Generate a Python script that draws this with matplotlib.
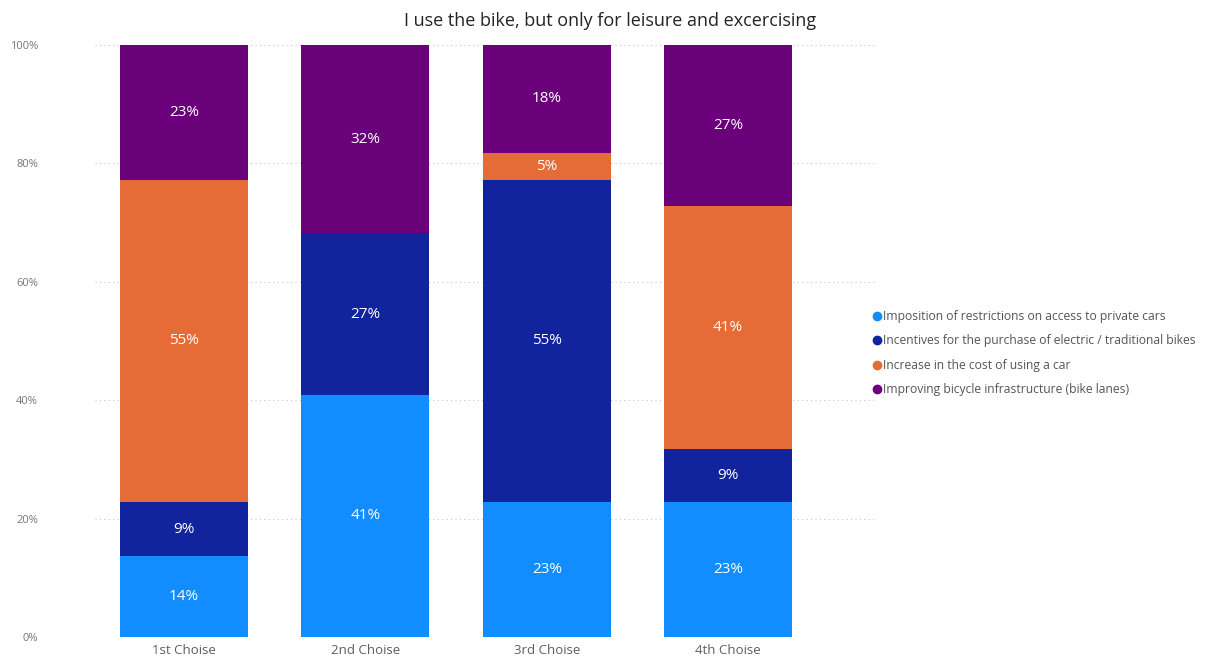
import numpy as np
import matplotlib
matplotlib.use("Agg")
import matplotlib.pyplot as plt
from matplotlib.lines import Line2D
from matplotlib.ticker import PercentFormatter

plt.rcParams["font.family"] = ["Open Sans", "DejaVu Sans"]

# answers per choice rank, 22 respondents each
choices = ["1st Choise", "2nd Choise", "3rd Choise", "4th Choise"]
measures = [
    "Imposition of restrictions on access to private cars",
    "Incentives for the purchase of electric / traditional bikes",
    "Increase in the cost of using a car",
    "Improving bicycle infrastructure (bike lanes)",
]
restrictions = [3, 9, 5, 5]
incentives = [2, 6, 12, 2]
car_cost = [12, 0, 1, 9]
infrastructure = [5, 7, 4, 6]
colors = ["#118DFF", "#12239E", "#E66C37", "#6B007B"]

counts = np.array([restrictions, incentives, car_cost, infrastructure], dtype=float)
shares = counts / counts.sum(axis=0) * 100

fig = plt.figure(figsize=(12.06, 6.6), dpi=100)
ax = fig.add_axes([95 / 1206, 23 / 660, 780 / 1206, 592 / 660])

x = np.arange(len(choices))
bottom = np.zeros(len(choices))
for vals, col in zip(shares, colors):
    ax.bar(x, vals, 0.706, bottom=bottom, color=col, zorder=2)
    for xi, b, v in zip(x, bottom, vals):
        if v > 0:
            ax.text(xi, b + v / 2, f"{v:.0f}%", ha="center", va="center",
                    color="white", fontsize=11, zorder=3)
    bottom += vals

ax.set_xlim(-0.491, 3.81)
ax.set_ylim(0, 100)
ax.set_yticks([0, 20, 40, 60, 80, 100])
ax.yaxis.set_major_formatter(PercentFormatter(decimals=0))
ax.set_xticks(x)
ax.set_xticklabels(choices)
ax.grid(axis="y", color="#c8c8c8", linestyle=(0, (1, 3)), linewidth=0.8, zorder=0)
for s in ax.spines.values():
    s.set_visible(False)
ax.tick_params(axis="y", length=0, labelsize=8, labelcolor="#777777", pad=41)
ax.tick_params(axis="x", length=0, labelsize=9.5, labelcolor="#605E5C", pad=5)

fig.text(0.506, 0.968, "I use the bike, but only for leisure and excercising",
         ha="center", va="center", fontsize=13, color="#252423")

handles = [Line2D([], [], marker="o", linestyle="none", markersize=6,
                  markerfacecolor=c, markeredgecolor=c) for c in colors]
fig.legend(handles, measures, loc="upper left", bbox_to_anchor=(866 / 1206, 1 - 305 / 660),
           frameon=False, fontsize=8.7, labelcolor="#555555", handletextpad=0.0,
           handlelength=1.0, labelspacing=0.95, borderaxespad=0)

fig.savefig("out.png", dpi=100)
